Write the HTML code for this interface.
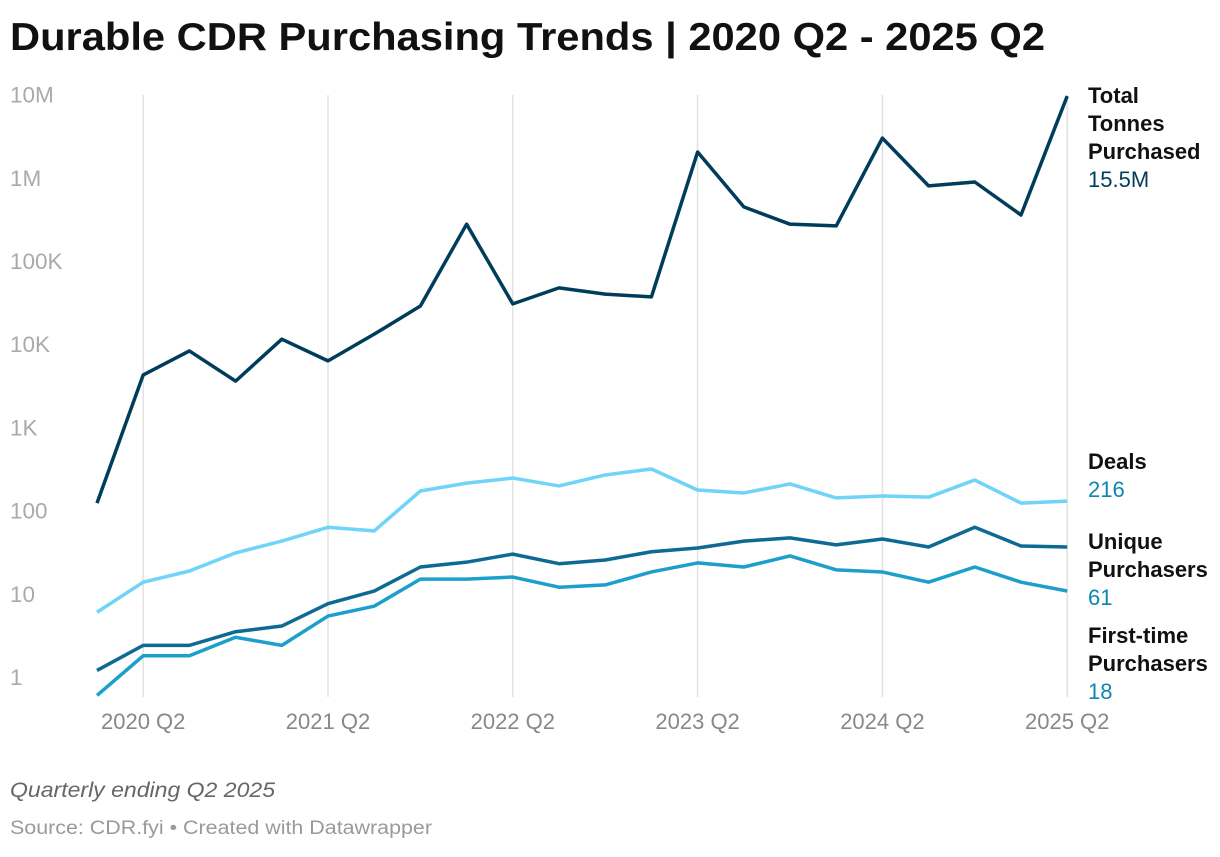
<!DOCTYPE html>
<html><head><meta charset="utf-8">
<style>
body{margin:0;background:#fff;font-family:"Liberation Sans",sans-serif;}
svg text{font-family:"Liberation Sans",sans-serif;}
</style></head>
<body>
<svg width="1220" height="852">
<text x="10" y="50" font-size="39" font-weight="bold" fill="#111" textLength="1035" lengthAdjust="spacingAndGlyphs">Durable CDR Purchasing Trends | 2020 Q2 - 2025 Q2</text>
<g id="grid"></g><g id="lines"></g><g id="labels"></g>
<text x="10" y="797" font-size="21" font-style="italic" fill="#666" textLength="265" lengthAdjust="spacingAndGlyphs">Quarterly ending Q2 2025</text>
<text x="10" y="834" font-size="19" fill="#9a9a9a" textLength="422" lengthAdjust="spacingAndGlyphs">Source: CDR.fyi • Created with Datawrapper</text>
</svg>
<script>
const xTickLabels=["2020 Q2","2021 Q2","2022 Q2","2023 Q2","2024 Q2","2025 Q2"];
const yTickLabels=["1","10","100","1K","10K","100K","1M","10M"];
const yTickValues=[1,10,100,1e3,1e4,1e5,1e6,1e7];
const totalTonnes=[123,4270,8300,3600,11500,6300,13200,28800,277000,30500,47500,40000,37000,2040000,447000,277000,264000,3000000,800000,890000,357000,9600000];
const deals=[6,13.8,18.8,31,43,63,57,172,214,246,198,268,316,177,163,209,142,150,145,233,123,130];
const uniquePurchasers=[1.2,2.4,2.4,3.5,4.1,7.6,10.8,21,24,30,23,25.5,32,35.5,43,47,38.7,45.6,36.5,63,37.5,36.5];
const firstTime=[0.6,1.8,1.8,3.0,2.4,5.4,7.1,15,15,15.9,12,12.8,18.3,23.5,21,28.5,19.4,18.3,13.8,21,13.8,10.8];
const NS="http://www.w3.org/2000/svg";
const x=i=>97+i*46.2;
const y=v=>677-Math.log10(v)*83.2;
function mk(t,a,p){const e=document.createElementNS(NS,t);for(const k in a)e.setAttribute(k,a[k]);p.appendChild(e);return e;}
const grid=document.getElementById('grid'),lines=document.getElementById('lines'),labels=document.getElementById('labels');
xTickLabels.forEach((l,k)=>{const i=1+k*4;
 const g=mk('line',{x1:x(i),x2:x(i),y1:95,y2:697,stroke:'#e2e2e2','stroke-width':1.5},grid);
 
 
 const t=mk('text',{x:x(i),y:729,'text-anchor':'middle','font-size':22,fill:'#888'},grid);t.textContent=l;
 
 
});
yTickLabels.forEach((l,k)=>{
 const t=mk('text',{x:10,y:y(yTickValues[k])+8,'font-size':22.5,fill:'#aaa'},grid);t.textContent=l;
 
 
});
const series=[
 [totalTonnes,'#003d5b','total-tonnes-line'],
 [deals,'#6fd4f8','deals-line'],
 [uniquePurchasers,'#0d6a92','unique-purchasers-line'],
 [firstTime,'#1d9fcc','first-time-purchasers-line']];
series.forEach(([d,c,n])=>{
 const p=mk('polyline',{points:d.map((v,i)=>x(i)+','+y(v)).join(' '),fill:'none',stroke:c,'stroke-width':3.5,'stroke-linejoin':'round'},lines);
 
 
});
const lab=[
 [["Total","Tonnes","Purchased"],"15.5M",'#003d5b',103],
 [["Deals"],"216",'#0d86b0',469],
 [["Unique","Purchasers"],"61",'#0d86b0',549],
 [["First-time","Purchasers"],"18",'#0d86b0',643]];
lab.forEach(([ls,v,c,y0])=>{
 ls.forEach((l,j)=>{const t=mk('text',{x:1088,y:y0+j*28,'font-size':22,'font-weight':'bold',fill:'#111'},labels);t.textContent=l;
  
  });
 const t=mk('text',{x:1088,y:y0+ls.length*28,'font-size':22,fill:c},labels);t.textContent=v;
 
 
});
</script>
</body></html>
